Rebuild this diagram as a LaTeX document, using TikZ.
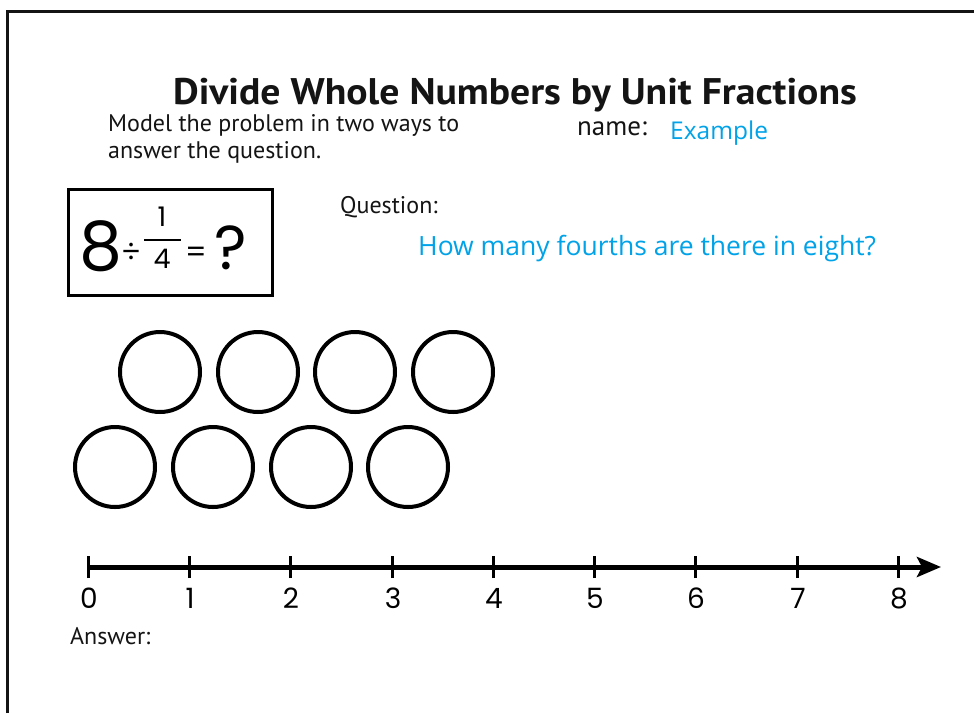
\documentclass[tikz,border=0pt]{standalone}
\usepackage{fontspec}
\setmainfont{PT Sans}
\newfontfamily\handfont{Open Sans}
\newfontfamily\geofont{Poppins}
\usetikzlibrary{arrows.meta}
\definecolor{ansblue}{RGB}{0,162,232}
\definecolor{ink}{RGB}{20,20,20}
\begin{document}
\begin{tikzpicture}[x=1pt,y=-1pt,
  txt/.style={inner sep=0pt, anchor=base west, text=ink, font=\fontsize{24}{28}\selectfont},
  blue/.style={inner sep=0pt, anchor=base west, text=ansblue, font=\handfont\fontsize{24.5}{28}\selectfont},
  ring/.style={circle, draw=black, line width=4pt, minimum size=80pt, inner sep=0pt},
  tick/.style={line width=3pt, draw=black},
  numlab/.style={inner sep=0pt, anchor=base, font=\geofont\fontsize{28}{30}\selectfont},
  eq/.style={inner sep=0pt, anchor=base, font=\geofont}
]
\useasboundingbox (0,0) rectangle (974,713);
\fill[white] (0,0) rectangle (974,713);
% frame
\draw[line width=3pt, draw=ink] (7,713) -- (7,11) -- (974,11);

% title
\node[inner sep=0pt, anchor=base, text=ink, font=\bfseries\fontsize{37}{42}\selectfont] (title) at (515,104) {\scalebox{1.072}[1]{Divide Whole Numbers by Unit Fractions}};
\node[txt] (model1) at (108,131) {Model the problem in two ways to};
\node[txt] (model2) at (108,158) {answer the question.};
\node[txt, font=\fontsize{27}{30}\selectfont] (name) at (577,135) {name:};
\node[blue] (example) at (670,139) {Example};

% equation box
\node[draw=black, line width=3pt, minimum width=204pt, minimum height=106pt, inner sep=0pt] (eqbox) at (170.5,242.5) {};
\node[eq, font=\geofont\fontsize{68}{72}\selectfont] (eight) at (101,270) {8};
\node[eq, font=\geofont\fontsize{30}{34}\selectfont] (div) at (131,262) {÷};
\node[eq, font=\geofont\fontsize{27}{30}\selectfont] (one) at (162,226) {1};
\node[eq, font=\geofont\fontsize{27}{30}\selectfont] (four) at (162,268) {4};
\coordinate (barL) at (144,240);
\coordinate (barR) at (181,240);
\draw[line width=2pt] (barL) -- (barR);
\node[eq, font=\geofont\fontsize{30}{34}\selectfont] (eqs) at (196,262) {=};
\node[eq, font=\geofont\fontsize{62}{66}\selectfont] (qm) at (231,269) {?};

% question
\node[txt] (question) at (340,213) {Question:};
\node[blue, font=\handfont\fontsize{26.5}{30}\selectfont] (qtext) at (418,255) {How many fourths are there in eight?};

% circles
\node[ring] (a1) at (160,372) {};
\node[ring] (a2) at (258,372) {};
\node[ring] (a3) at (355,372) {};
\node[ring] (a4) at (453,372) {};
\node[ring] (b1) at (115,467) {};
\node[ring] (b2) at (213,467) {};
\node[ring] (b3) at (311,467) {};
\node[ring] (b4) at (408,467) {};

% number line
\coordinate (start) at (88,567);
\coordinate (tip) at (941,567);
\draw[line width=5pt, -{Stealth[length=24pt,width=20pt,inset=5pt]}] (start) -- (tip);
\foreach \i/\x in {0/88,1/189,2/290,3/392,4/493,5/594,6/695,7/797,8/898}{
  \coordinate (t\i) at (\x,567);
  \draw[tick] ([yshift=-11pt]t\i) -- ([yshift=11pt]t\i);
  \node[numlab] (l\i) at (\x+1,608) {\i};
}

\node[txt] (answer) at (70,644) {Answer:};
\end{tikzpicture}
\end{document}
